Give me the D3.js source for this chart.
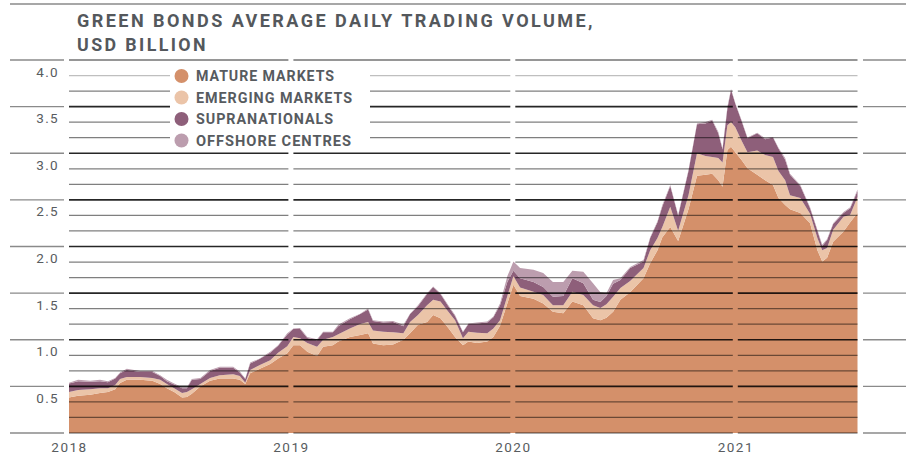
<!DOCTYPE html>
<html>
<head>
<meta charset="utf-8">
<script src="https://cdn.jsdelivr.net/npm/d3@7"></script>
<style>
    body { margin: 0; background: #fff; }
    svg { display: block; font-family: Roboto, "Liberation Sans", Arial, sans-serif; }
</style>
</head>
<body>
<div id="chart"></div>
<script>

// ---- data (USD billion) ----
const dates = [
    "2018-01-01","2018-01-16","2018-02-05","2018-02-21","2018-03-06","2018-03-18","2018-03-26","2018-04-06","2018-04-28","2018-05-18",
    "2018-05-31","2018-06-11","2018-06-23","2018-07-06","2018-07-14","2018-07-22","2018-08-05","2018-08-21","2018-09-06","2018-09-28",
    "2018-10-09","2018-10-18","2018-10-26","2018-11-11","2018-11-28","2018-12-11","2018-12-26","2019-01-05","2019-01-16","2019-01-28",
    "2019-02-13","2019-02-23","2019-03-11","2019-03-20","2019-04-08","2019-04-25","2019-05-08","2019-05-16","2019-06-02","2019-06-18",
    "2019-07-05","2019-07-16","2019-07-29","2019-08-13","2019-08-23","2019-09-04","2019-09-17","2019-09-28","2019-10-11","2019-10-20",
    "2019-11-03","2019-11-20","2019-11-30","2019-12-11","2019-12-23","2020-01-02","2020-01-13","2020-02-04","2020-02-20","2020-03-07",
    "2020-03-24","2020-04-08","2020-04-26","2020-05-12","2020-05-24","2020-06-03","2020-06-14","2020-06-26","2020-07-12","2020-08-03",
    "2020-08-14","2020-08-26","2020-09-03","2020-09-16","2020-09-29","2020-10-16","2020-10-30","2020-11-13","2020-11-24","2020-12-04",
    "2020-12-11","2020-12-19","2020-12-25","2021-01-01","2021-01-11","2021-01-21","2021-02-06","2021-02-19","2021-03-04","2021-03-13",
    "2021-03-24","2021-04-01","2021-04-18","2021-05-04","2021-05-16","2021-05-24","2021-06-01","2021-06-11","2021-06-28","2021-07-09",
    "2021-07-21"
];

const mature = [
    .38,.40,.41,.43,.44,.47,.535,.57,.57,.56,
    .525,.48,.44,.38,.385,.42,.50,.56,.585,.585,
    .57,.525,.64,.69,.74,.80,.855,.94,.94,.87,
    .825,.925,.94,.98,1.03,1.05,1.07,.96,.94,.95,
    1.0,1.07,1.16,1.19,1.265,1.23,1.125,1.03,.94,.98,
    .965,.98,1.03,1.15,1.39,1.59,1.47,1.44,1.39,1.30,
    1.285,1.41,1.37,1.23,1.21,1.235,1.30,1.43,1.51,1.66,
    1.82,1.96,2.10,2.21,2.06,2.40,2.76,2.77,2.78,2.71,
    2.64,3.035,3.07,3.01,2.93,2.84,2.77,2.71,2.66,2.52,
    2.445,2.40,2.36,2.25,1.96,1.84,1.88,2.05,2.16,2.26,
    2.36
];

const emerging = [
    .06,.06,.06,.05,.04,.045,.045,.03,.03,.03,
    .045,.045,.04,.05,.055,.05,.025,.03,.035,.045,
    .04,.015,.035,.04,.04,.06,.075,.09,.075,.095,
    .10,.075,.09,.08,.09,.12,.12,.14,.145,.13,
    .07,.12,.105,.18,.165,.18,.175,.18,.075,.105,
    .11,.09,.09,.06,.08,.09,.09,.075,.09,.07,
    .085,.105,.11,.14,.13,.145,.16,.125,.12,.11,
    .14,.13,.11,.215,.11,.15,.24,.20,.18,.24,
    .26,.265,.265,.27,.21,.17,.26,.27,.30,.29,
    .265,.15,.16,.10,.13,.12,.105,.13,.16,.08,
    .17
];

const supranationals = [
    .09,.095,.08,.075,.065,.07,.06,.075,.055,.065,
    .04,.03,.04,.05,.04,.10,.055,.075,.08,.07,
    .04,.04,.07,.065,.08,.075,.125,.085,.10,.055,
    .07,.08,.05,.085,.10,.105,.135,.10,.10,.11,
    .075,.085,.095,.12,.135,.08,.06,.045,.065,.085,
    .10,.115,.12,.16,.15,.06,.10,.105,.085,.09,
    .10,.145,.125,.06,.065,.09,.14,.085,.14,.07,
    .13,.17,.22,.225,.16,.26,.31,.35,.39,.265,
    .14,.18,.345,.25,.21,.15,.185,.17,.21,.24,
    .22,.22,.13,.06,.08,.045,.085,.06,.04,.07,
    .065
];

const offshore = [
    .01,.015,.01,.015,.01,.005,.01,.015,.01,.01,
    .01,.015,.01,.01,.01,.01,.01,.01,.01,.01,
    .01,.005,.01,.005,.01,.005,.015,.005,.01,.01,
    .01,.005,.005,.015,.01,.005,.01,.01,.01,.01,
    .015,.005,.01,.01,.005,.01,.01,.01,.005,.005,
    .01,.01,.01,.02,.06,.10,.11,.13,.15,.16,
    .15,.08,.125,.175,.105,.03,.04,.02,.01,.015,
    .01,.01,.015,.01,.01,.01,.01,.015,.01,.015,
    .01,.02,.01,.01,.01,.01,.005,.01,.005,.01,
    .02,.01,.01,.01,.01,.015,.01,.01,.01,.01,
    .015
];

const seriesKeys = ["mature", "emerging", "supranationals", "offshore"];
const seriesLabels = ["MATURE MARKETS", "EMERGING MARKETS", "SUPRANATIONALS", "OFFSHORE CENTRES"];
const seriesColors = ["#d4906a", "#ebc4a8", "#8e5f7a", "#bc9dae"];

const yearTicks = ["2018-01-01", "2019-01-01", "2020-01-01", "2021-01-01"];
const yTickLabels = ["0.5", "1.0", "1.5", "2.0", "2.5", "3.0", "3.5", "4.0"];

// ---- setup ----
const W = 906, H = 457;
const parse = d3.timeParse("%Y-%m-%d");

let rows = dates.map((d, i) => ({
    date: parse(d),
    mature: mature[i],
    emerging: emerging[i],
    supranationals: supranationals[i],
    offshore: offshore[i]
}));

let svg = d3.select("#chart").append("svg")
    .attr("width", W)
    .attr("height", H);

let x = d3.scaleTime()
    .domain(d3.extent(rows, d => d.date))
    .range([69, 857.5]);

let y = d3.scaleLinear()
    .domain([0, 4])
    .range([433, 60]);

let stack = d3.stack().keys(seriesKeys);
let layers = stack(rows);

let area = d3.area()
    .x(d => x(d.data.date))
    .y0(d => y(d[0]))
    .y1(d => y(d[1]));

// stacked areas
svg.append("g")
    .selectAll("path")
    .data(layers)
    .enter()
    .append("path")
    .attr("d", area)
    .attr("fill", (d, i) => seriesColors[i]);

// ---- grid: a line every 1/6 unit, broken at each new year ----
let gridVals = d3.range(0, 25).map(i => i / 6);
let breaks = yearTicks.slice(1).map(d => x(parse(d)));
let segs = [];
let start = x.range()[0];
breaks.forEach(b => { segs.push([start, b - 2.5]); start = b + 2.5; });
segs.push([start, x.range()[1]]);

function gridStyle(i) {
    if (i === 0) return {op: .45, w: 1.5};
    if (i === 24) return {op: .55, w: 1.5};
    if (i % 3 === 0) return {op: .85, w: 1.6};
    if (i === 23) return {op: .25, w: 1.2};
    return {op: .5, w: 1.2};
}

let grid = svg.append("g").attr("class", "grid");
gridVals.forEach((v, i) => {
    let s = gridStyle(i);
    segs.forEach(sg => {
        grid.append("line")
            .attr("x1", sg[0]).attr("x2", sg[1])
            .attr("y1", y(v)).attr("y2", y(v))
            .attr("stroke", "#000")
            .attr("stroke-opacity", s.op)
            .attr("stroke-width", s.w);
    });
});

// side columns: only the 0.5 steps
let majors = gridVals.filter((v, i) => i % 3 === 0);
[[10, 64], [863, 906]].forEach(c => {
    svg.append("g")
        .selectAll("line")
        .data(majors)
        .enter()
        .append("line")
        .attr("x1", c[0]).attr("x2", c[1])
        .attr("y1", d => y(d)).attr("y2", d => y(d))
        .attr("stroke", "#8a8a8a")
        .attr("stroke-width", 1.3);
});

// top rule
svg.append("line")
    .attr("x1", 10).attr("x2", W)
    .attr("y1", 4).attr("y2", 4)
    .attr("stroke", "#8a8a8a")
    .attr("stroke-width", 1.5);

// y labels sit just under their line
svg.append("g")
    .selectAll("text")
    .data(yTickLabels)
    .enter()
    .append("text")
    .attr("x", 59)
    .attr("y", d => y(+d) + 16.5)
    .attr("text-anchor", "end")
    .style("font-size", "13.5px")
    .style("letter-spacing", "1.3px")
    .attr("fill", "#585c60")
    .text(d => d);

// x axis (years)
let xAxis = d3.axisBottom(x)
    .tickValues(yearTicks.map(parse))
    .tickFormat(d3.timeFormat("%Y"))
    .tickSize(0);

let xg = svg.append("g")
    .attr("transform", "translate(0, 433)")
    .call(xAxis);
xg.select(".domain").remove();
xg.selectAll("text")
    .attr("y", 18.5)
    .attr("dy", 0)
    .attr("fill", "#585c60")
    .style("font-family", "Roboto, 'Liberation Sans', Arial, sans-serif")
    .style("font-size", "13.5px")
    .style("letter-spacing", "1.5px");

// ---- legend ----
svg.append("rect")
    .attr("x", 170).attr("y", 64)
    .attr("width", 200).attr("height", 83)
    .attr("fill", "#fff");

let legendW = [139, 157, 138, 156];
let legend = svg.append("g").attr("class", "legend");
legend.selectAll("circle")
    .data(seriesColors)
    .enter()
    .append("circle")
    .attr("cx", 181.5)
    .attr("cy", (d, i) => 76 + i * 21.5)
    .attr("r", 7)
    .attr("fill", d => d);

legend.selectAll("text")
    .data(seriesLabels)
    .enter()
    .append("text")
    .attr("x", 196)
    .attr("y", (d, i) => 81 + i * 21.5)
    .attr("textLength", (d, i) => legendW[i])
    .attr("lengthAdjust", "spacingAndGlyphs")
    .style("font-size", "15px")
    .style("font-weight", "bold")
    .style("letter-spacing", "1px")
    .attr("fill", "#575b5f")
    .text(d => d);

// ---- title ----
let titleLines = ["GREEN BONDS AVERAGE DAILY TRADING VOLUME,", "USD BILLION"];
let titleW = [518, 131];
svg.append("g")
    .selectAll("text")
    .data(titleLines)
    .enter()
    .append("text")
    .attr("x", 77)
    .attr("y", (d, i) => 26.5 + i * 24)
    .attr("textLength", (d, i) => titleW[i])
    .attr("lengthAdjust", "spacingAndGlyphs")
    .style("font-size", "18.5px")
    .style("font-weight", "bold")
    .style("letter-spacing", "2.5px")
    .attr("fill", "#54585c")
    .text(d => d);

</script>
</body>
</html>
